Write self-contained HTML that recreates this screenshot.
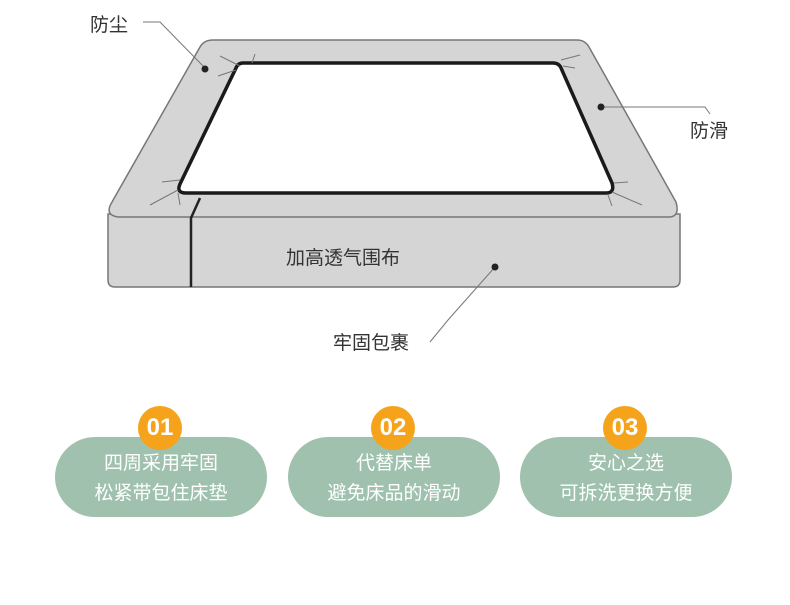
<!DOCTYPE html>
<html><head><meta charset="utf-8"><style>
body{margin:0;width:790px;height:605px;background:#fff;overflow:hidden;font-family:"Liberation Sans","Noto Sans CJK SC",sans-serif}
.pill{position:absolute;top:437px;width:212px;height:80px;border-radius:40px;background:#9fc1ad;color:#fff;font-size:19px;line-height:30px;text-align:center;box-sizing:border-box;padding-top:12px}
.badge{position:absolute;top:406px;width:44px;height:44px;border-radius:50%;background:#f5a31a;color:#fff;font-weight:bold;font-size:24px;line-height:44px;text-align:center}
</style></head><body>
<svg width="790" height="605" style="position:absolute;left:0;top:0">
<g stroke="#777" stroke-width="1.5" fill="#d5d5d5">
<path d="M108 214 L108 280 Q108 287 115 287 L673 287 Q680 287 680 280 L680 214 Z"/>
<path d="M213 40 L577 40 Q585 40 589 47 L676 202 Q680 216 670 217 L118 217 Q104 215 112 202 L200 47 Q204 40 213 40 Z"/>
</g>
<path d="M200 198 L191 218 L191 287" stroke="#222" stroke-width="2.5" fill="none"/>
<path d="M243 63 L553 63 Q559 63 561 68 L612 183 Q615 193 606 193 L186 193 Q176 193 180 184 L236 68 Q238 63 243 63 Z" fill="#fff" stroke="#1a1a1a" stroke-width="3.5"/>
<g stroke="#777" stroke-width="1" fill="none">
<path d="M220 56 L240 66 M218 76 L236 70 M255 54 L252 63"/>
<path d="M561 60 L580 55 M563 66 L575 68"/>
<path d="M180 180 L162 182 M178 190 L150 205 M178 193 L180 205"/>
<path d="M614 183 L628 182 M612 192 L642 205 M608 195 L612 206"/>
<path d="M143 22 L160 22 L205 68"/>
<path d="M601 107 L705 107 L710 114"/>
<path d="M495 267 L448 320 L430 342"/>
</g>
<g fill="#222"><circle cx="205" cy="69" r="3.5"/><circle cx="601" cy="107" r="3.5"/><circle cx="495" cy="267" r="3.5"/></g>
<g font-size="19" fill="#333" font-family="Liberation Sans,Noto Sans CJK SC,sans-serif">
<text x="90" y="31">防尘</text>
<text x="690" y="137">防滑</text>
<text x="286" y="264">加高透气围布</text>
<text x="333" y="349">牢固包裹</text>
</g>
</svg>
<div class="pill" style="left:55px">四周采用牢固<br>松紧带包住床垫</div>
<div class="pill" style="left:288px">代替床单<br>避免床品的滑动</div>
<div class="pill" style="left:520px">安心之选<br>可拆洗更换方便</div>
<div class="badge" style="left:138px">01</div>
<div class="badge" style="left:371px">02</div>
<div class="badge" style="left:603px">03</div>
</body></html>
